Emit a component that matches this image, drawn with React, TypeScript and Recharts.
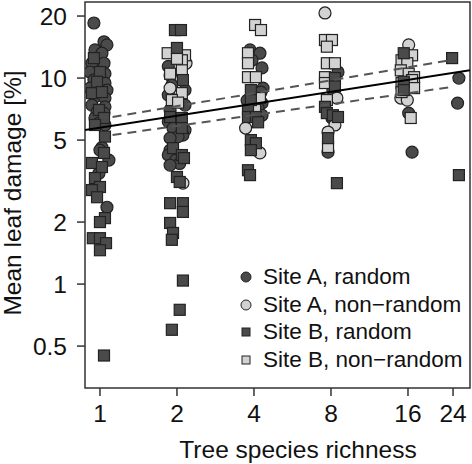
import {
  ScatterChart,
  Scatter,
  XAxis,
  YAxis,
  ReferenceArea,
  Legend,
  Label,
} from "recharts";

const FONT = "'Liberation Sans', Arial, sans-serif";

const X_TICKS = [1, 2, 4, 8, 16, 24];
const Y_TICKS = [0.5, 1, 2, 5, 10, 20];
const X_DOMAIN = [0.874, 27.96];
const Y_DOMAIN = [0.313, 23.4];

// [tree species richness (jittered), mean leaf damage %]
const SITE_A_RANDOM: [number, number][] = [
  [0.947, 18.5], [1.037, 15.0], [1.065, 14.5], [0.956, 13.7], [1.018, 13.2], [0.93, 11.8],
  [1.037, 11.8], [0.914, 10.7], [1.046, 10.5], [0.947, 9.8], [1.046, 9.46], [0.914, 8.94],
  [1.065, 8.74], [0.956, 8.1], [1.046, 8.0], [0.93, 7.39], [1.046, 7.25], [0.974, 6.85],
  [1.037, 6.76], [0.956, 6.4], [0.991, 6.05], [1.046, 5.92], [1.018, 4.6], [1.0, 4.47],
  [1.084, 4.0], [0.991, 3.45], [1.065, 2.36],
  [2.11, 12.2], [1.85, 11.4], [1.88, 10.3], [1.91, 9.25], [2.15, 8.74], [1.85, 8.27],
  [1.96, 7.82], [2.15, 7.39], [1.88, 7.0], [1.85, 6.15], [1.93, 5.72], [2.15, 5.59],
  [2.11, 5.29], [2.02, 5.2], [1.88, 5.11], [1.88, 4.47], [1.85, 4.23], [1.98, 4.0],
  [2.05, 3.85], [1.88, 3.78],
  [3.86, 13.7], [4.22, 13.2], [3.93, 12.2], [4.3, 11.2], [4.34, 8.94], [4.26, 8.55],
  [3.76, 7.8], [4.3, 7.56], [4.15, 7.15], [4.3, 6.6],
  [8.52, 10.7], [8.14, 8.74], [8.07, 6.4], [7.79, 4.37],
  [16.1, 6.76], [16.6, 4.37],
  [25.3, 10.0], [25.0, 7.56],
];

const SITE_A_NONRANDOM: [number, number][] = [
  [1.88, 8.94], [2.17, 11.8], [2.11, 3.09],
  [3.71, 5.72], [4.22, 4.33],
  [7.58, 20.7], [8.44, 8.0], [8.29, 5.92], [7.79, 5.47],
  [16.1, 14.5], [15.0, 8.0], [15.9, 7.82],
];

const SITE_B_RANDOM: [number, number][] = [
  [0.947, 12.5], [1.0, 10.7], [0.974, 9.6], [0.93, 8.45], [1.018, 8.55], [0.991, 7.0],
  [1.037, 6.4], [0.956, 5.92], [1.046, 5.2], [1.037, 4.33], [0.93, 3.87], [1.018, 3.7],
  [0.956, 3.27], [1.0, 2.96], [0.93, 2.86], [0.974, 2.64], [1.046, 2.09], [1.0, 2.0],
  [0.938, 1.67], [1.0, 1.67], [1.056, 1.58], [1.0, 1.46], [1.037, 0.45],
  [1.964, 17.1], [2.073, 17.1], [2.0, 14.0], [2.11, 9.78], [1.88, 6.47], [2.09, 6.4],
  [2.09, 5.72], [1.93, 4.57], [2.09, 4.23], [2.13, 4.09], [2.0, 3.31], [2.05, 3.13],
  [1.88, 2.47], [2.11, 2.47], [2.11, 2.24], [1.88, 1.98], [1.93, 1.77], [1.91, 1.64],
  [2.11, 1.04], [2.05, 0.75], [1.91, 0.6],
  [3.89, 8.74], [3.89, 7.82], [3.79, 7.0], [3.79, 6.47], [4.07, 6.47], [4.15, 6.1],
  [3.89, 5.0], [4.07, 4.83], [3.89, 4.47], [3.79, 3.57], [3.86, 3.38],
  [8.29, 10.0], [8.29, 9.1], [7.58, 7.25], [7.71, 6.76], [8.14, 6.6], [8.52, 6.47],
  [7.79, 5.11], [8.44, 3.09],
  [15.4, 13.2], [15.4, 9.6], [15.4, 8.74],
  [23.8, 12.5], [25.3, 3.38],
];

const SITE_B_NONRANDOM: [number, number][] = [
  [1.84, 13.2], [2.15, 12.9], [2.09, 12.2], [2.0, 12.4], [1.88, 10.5], [2.09, 10.9],
  [2.09, 8.45], [1.91, 7.82], [2.02, 7.6],
  [4.04, 18.1], [4.26, 17.1], [3.79, 13.2], [3.79, 11.8], [3.79, 10.1], [4.07, 10.1],
  [4.22, 8.0], [4.04, 7.0],
  [7.58, 15.3], [8.07, 15.3], [7.71, 14.2], [7.71, 11.8], [8.29, 11.8], [7.58, 10.1],
  [7.58, 9.46], [7.71, 7.82], [7.79, 4.63],
  [16.6, 12.9], [15.1, 12.2], [15.9, 11.8], [15.0, 10.9], [16.1, 10.5], [16.9, 10.1],
  [16.6, 9.78], [15.1, 9.46], [16.9, 8.94], [15.1, 8.55], [16.4, 6.4],
];

// fitted line and its confidence band (end points)
const FIT: [number, number][] = [[0.874, 5.59], [27.96, 10.9]];
const CI_UPPER: [number, number][] = [[1.12, 6.47], [23.4, 12.2]];
const CI_LOWER: [number, number][] = [[1.12, 5.29], [23.6, 9.04]];

const DARK = "#4a4a4a";
const LIGHT = "#d2d2d2";

const toRows = (pts: [number, number][]) => pts.map(([x, y]) => ({ x, y }));

const circleShape = (fill: string) => (p: any) =>
  <circle cx={p.cx} cy={p.cy} r={6} fill={fill} stroke="#222" strokeWidth={1.2} />;

const squareShape = (fill: string) => (p: any) =>
  <rect x={p.cx - 5.5} y={p.cy - 5.5} width={11} height={11} fill={fill} stroke="#222" strokeWidth={1.2} />;

const noShape = () => <g />;

const LEGEND_ITEMS = [
  { label: "Site A, random", fill: DARK, square: false },
  { label: "Site A, non\u2212random", fill: LIGHT, square: false },
  { label: "Site B, random", fill: DARK, square: true },
  { label: "Site B, non\u2212random", fill: LIGHT, square: true },
];

const renderLegend = () => (
  <div style={{ fontFamily: FONT, fontSize: 22.5, color: "#111" }}>
    {LEGEND_ITEMS.map((it) => (
      <div key={it.label} style={{ display: "flex", alignItems: "center", height: 27.7, whiteSpace: "nowrap" }}>
        <svg width={12} height={12} style={{ marginRight: 11 }}>
          {it.square ? (
            <rect x={2} y={2} width={8} height={8} fill={it.fill} stroke="#222" strokeWidth={1} />
          ) : (
            <circle cx={6} cy={6} r={5} fill={it.fill} stroke="#222" strokeWidth={1} />
          )}
        </svg>
        <span>{it.label}</span>
      </div>
    ))}
  </div>
);

export default function App() {
  const tick = { fill: "#111", fontSize: 24.5, fontFamily: FONT };
  const tickLine = { stroke: "#333", strokeWidth: 1.5 };

  return (
    <div style={{ position: "absolute", left: 0, top: 0, width: 472, height: 464, background: "#fff" }}>
      <ScatterChart width={472} height={464} margin={{ top: 2, right: 2, bottom: 0, left: 0 }}>
        <XAxis
          type="number"
          dataKey="x"
          scale="log"
          domain={X_DOMAIN}
          allowDataOverflow
          ticks={X_TICKS}
          interval={0}
          height={76}
          tickSize={8}
          tickMargin={9}
          axisLine={false}
          tickLine={tickLine}
          tick={tick}
        >
          <Label
            content={() => (
              <text x={298} y={458} textAnchor="middle" fontSize={24.5} fontFamily={FONT} fill="#111">
                Tree species richness
              </text>
            )}
          />
        </XAxis>
        <YAxis
          type="number"
          dataKey="y"
          scale="log"
          domain={Y_DOMAIN}
          allowDataOverflow
          ticks={Y_TICKS}
          interval={0}
          width={85}
          tickSize={8}
          tickMargin={10}
          axisLine={false}
          tickLine={tickLine}
          tick={tick}
        >
          <Label
            content={() => (
              <text
                x={21}
                y={193}
                transform="rotate(-90, 21, 193)"
                textAnchor="middle"
                fontSize={24.5}
                fontFamily={FONT}
                fill="#111"
              >
                Mean leaf damage [%]
              </text>
            )}
          />
        </YAxis>
        <ReferenceArea
          x1={X_DOMAIN[0]}
          x2={X_DOMAIN[1]}
          y1={Y_DOMAIN[0]}
          y2={Y_DOMAIN[1]}
          fill="none"
          fillOpacity={0}
          stroke="#333"
          strokeWidth={1.5}
        />
        <Scatter data={toRows(SITE_A_RANDOM)} shape={circleShape(DARK)} isAnimationActive={false} />
        <Scatter data={toRows(SITE_A_NONRANDOM)} shape={circleShape(LIGHT)} isAnimationActive={false} />
        <Scatter data={toRows(SITE_B_NONRANDOM)} shape={squareShape(LIGHT)} isAnimationActive={false} />
        <Scatter data={toRows(SITE_B_RANDOM)} shape={squareShape(DARK)} isAnimationActive={false} />
        <Scatter
          data={toRows(CI_UPPER)}
          shape={noShape}
          fill="none"
          line={{ stroke: "#555", strokeWidth: 2, strokeDasharray: "9 6" }}
          isAnimationActive={false}
        />
        <Scatter
          data={toRows(CI_LOWER)}
          shape={noShape}
          fill="none"
          line={{ stroke: "#555", strokeWidth: 2, strokeDasharray: "9 6" }}
          isAnimationActive={false}
        />
        <Scatter
          data={toRows(FIT)}
          shape={noShape}
          fill="none"
          line={{ stroke: "#000", strokeWidth: 2 }}
          isAnimationActive={false}
        />
        <Legend
          layout="vertical"
          align="center"
          verticalAlign="middle"
          content={renderLegend}
          wrapperStyle={{ left: 240, top: 263, width: 232, height: 112 }}
        />
      </ScatterChart>
    </div>
  );
}
